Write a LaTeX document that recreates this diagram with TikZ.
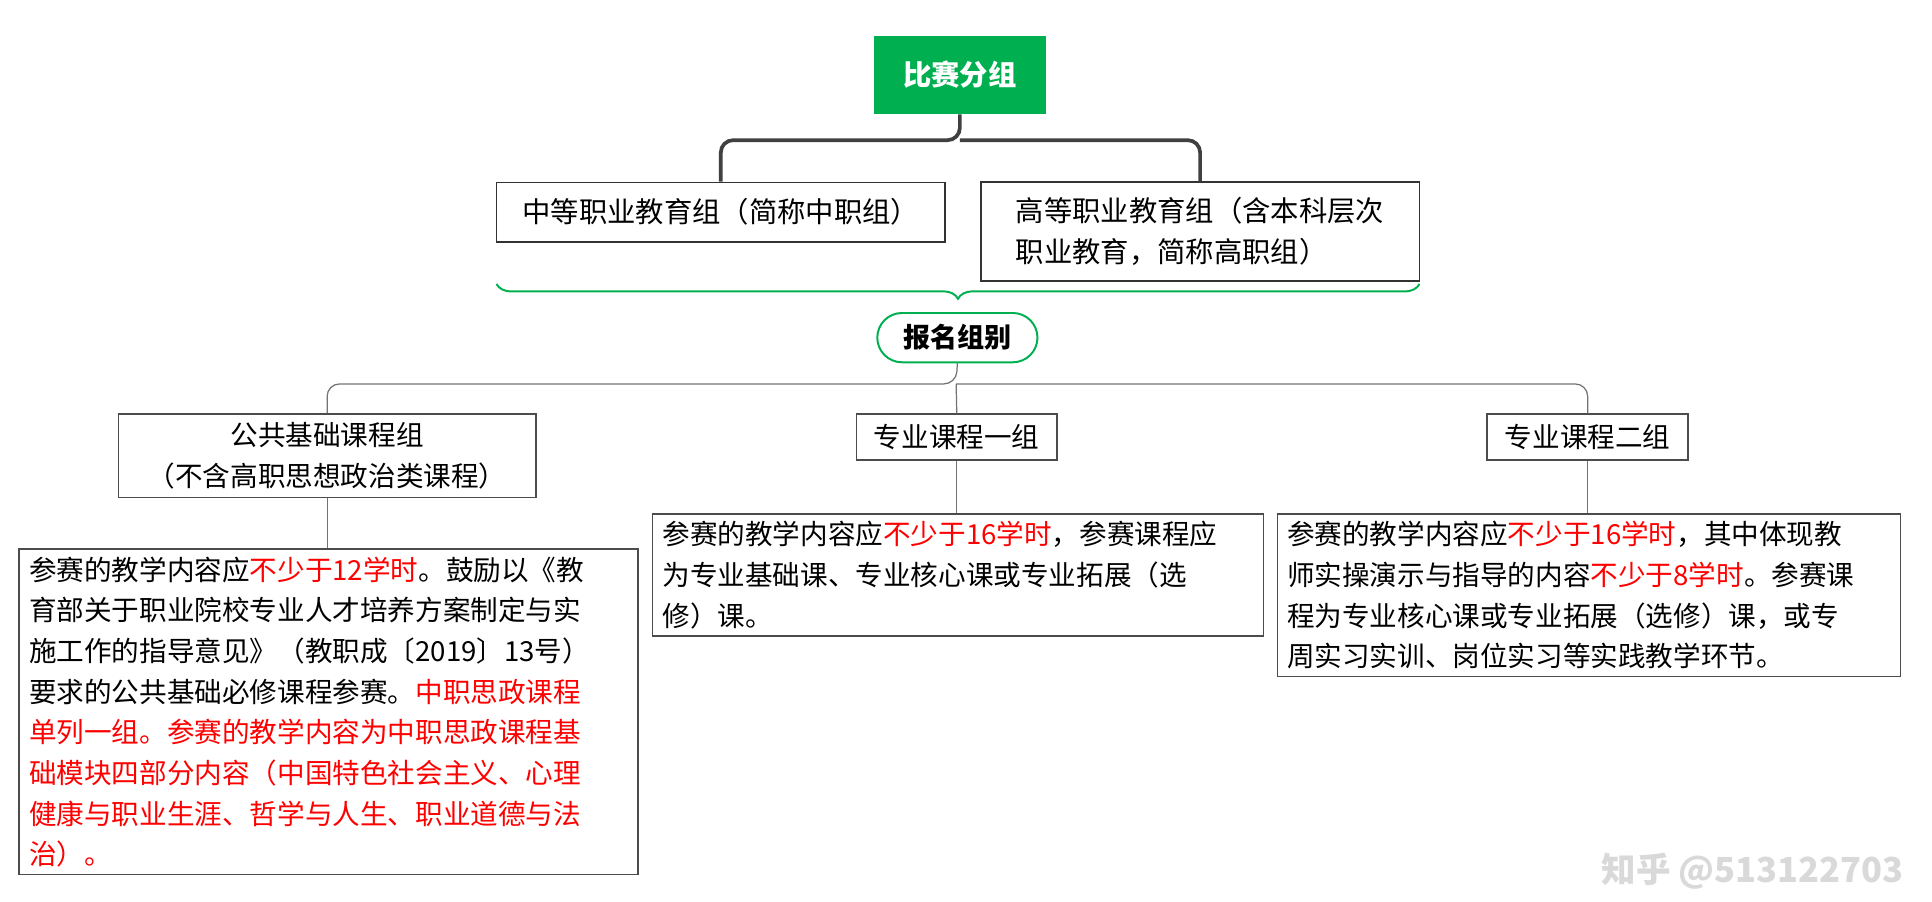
\documentclass[tikz,border=0pt]{standalone}
\usepackage{fontspec}
\setmainfont{Noto Sans CJK SC}
\usetikzlibrary{decorations.pathreplacing}
\definecolor{grn}{HTML}{00B050}
\tikzset{
 x=0.5pt,y=-0.4946pt,
 box/.style={draw=black!70,line width=0.6pt,inner sep=0pt,font=\fontsize{11.2}{16.5}\selectfont},
 big/.style={draw=black!80,line width=0.7pt,inner sep=0pt,font=\fontsize{11.5}{16.8}\selectfont},
 thin/.style={draw=black!55,line width=0.5pt,rounded corners=5pt},
 thick/.style={draw=black!75,line width=1.5pt,rounded corners=5pt},
}
\newcommand{\rd}[1]{\textcolor{red}{#1}}
\begin{document}
\begin{tikzpicture}
\useasboundingbox (0,0) rectangle (1568,740);
\node[fill=grn,minimum width=70pt,minimum height=31.5pt,inner sep=0pt,text=white,font=\fontsize{11.5}{14}\selectfont\bfseries] (root) at (779,61.5) {比赛分组};
\node[big,minimum width=182pt,minimum height=24pt] (a) at (585,174) {中等职业教育组（简称中职组）};
\node[big,minimum width=178pt,minimum height=40pt,align=left] (b) at (974,190) {高等职业教育组（含本科层次\\职业教育，简称高职组）};
\coordinate (m) at (779,115);
\draw[thick] (root.south) -- (m) -| (a.north);
\draw[thick] (m) -| (b.north);
\draw[grn,line width=0.8pt,decorate,decoration={brace,mirror,amplitude=6pt}] (403,233) -- (1152,233) coordinate (brc);
\node[draw=grn,line width=0.8pt,rounded corners=10pt,minimum width=65pt,minimum height=20pt,inner sep=0pt,font=\fontsize{11}{14}\selectfont\bfseries] (g) at (777,277) {报名组别};
\node[box,minimum width=169.5pt,minimum height=34pt,align=center] (c) at (265.5,374) {公共基础课程组\\（不含高职思想政治类课程）};
\node[box,minimum width=81.5pt,minimum height=18.5pt] (d) at (776.5,358.5) {专业课程一组};
\node[box,minimum width=81.5pt,minimum height=18.5pt] (e) at (1288.5,358.5) {专业课程二组};
\coordinate (n) at (776,315);
\draw[thin] (g.south) -- (n) -| (c.north);
\draw[thin] (n) -- (d.north);
\draw[thin] (n) -| (e.north);
\node[box,anchor=north west,minimum width=250.5pt,minimum height=126pt,text width=243pt,align=left,inner xsep=4pt,inner ysep=3pt] (f) at (15,450) {参赛的教学内容应\rd{不少于12学时}。鼓励以《教\\育部关于职业院校专业人才培养方案制定与实\\施工作的指导意见》（教职成〔2019〕13号）\\要求的公共基础必修课程参赛。\rd{中职思政课程}\\\rd{单列一组。参赛的教学内容为中职思政课程基}\\\rd{础模块四部分内容（中国特色社会主义、心理}\\\rd{健康与职业生涯、哲学与人生、职业道德与法}\\\rd{治）。}};
\node[box,anchor=north west,minimum width=247pt,minimum height=48pt,text width=240pt,align=left,inner xsep=4pt,inner ysep=3pt] (h) at (529,421) {参赛的教学内容应\rd{不少于16学时}，参赛课程应\\为专业基础课、专业核心课或专业拓展（选\\修）课。};
\node[box,anchor=north west,minimum width=252pt,minimum height=63pt,text width=245pt,align=left,inner xsep=4pt,inner ysep=3pt] (k) at (1036,421) {参赛的教学内容应\rd{不少于16学时}，其中体现教\\师实操演示与指导的内容\rd{不少于8学时}。参赛课\\程为专业核心课或专业拓展（选修）课，或专\\周实习实训、岗位实习等实践教学环节。};
\draw[thin] (c.south) -- (c.south|-f.north);
\draw[thin] (d.south) -- (d.south|-h.north);
\draw[thin] (e.south) -- (e.south|-k.north);
\node[text=black!15,font=\fontsize{14}{16}\selectfont\bfseries,anchor=east] (w) at (1552,715) {知乎 @513122703};
\end{tikzpicture}
\end{document}
